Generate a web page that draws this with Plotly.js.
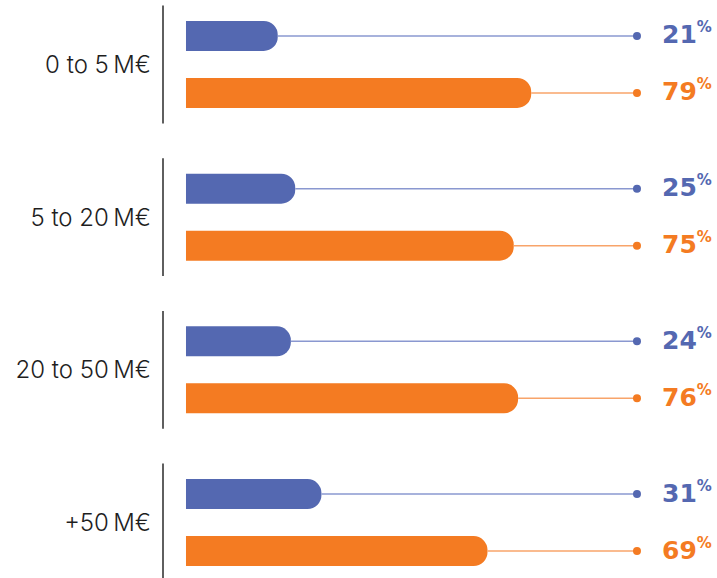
<!DOCTYPE html>
<html>
<head>
<meta charset="utf-8">
<script src="https://cdn.plot.ly/plotly-3.0.1.min.js"></script>
<style>
  html, body { margin: 0; padding: 0; background: #fff; }
  #chart { width: 717px; height: 578px; }
</style>
</head>
<body>
<div id="chart"></div>
<script>
// Revenue bands and the share of each answer within a band (percent)
const categories = ['0 to 5\u202fM€', '5 to 20\u202fM€', '20 to 50\u202fM€', '+50\u202fM€'];
const blueValues = [21, 25, 24, 31];
const orangeValues = [79, 75, 76, 69];

const BLUE = '#5468b1';
const ORANGE = '#f47b22';
const BLUE_LINE = '#8a98d0';
const ORANGE_LINE = '#f8a46a';

// layout helpers: each band holds two bars, one above and one below its centre
const pair = 0.1866;      // offset of a bar from the band centre (category units)
const barW = 0.1965;      // bar thickness (category units)
const dotX = 103.2;       // where the guide lines end
const idx = categories.map((_, i) => i);

function guide(values, sign) {
  const xs = [], ys = [];
  values.forEach((v, i) => { xs.push(v, dotX, null); ys.push(i + sign * pair, i + sign * pair, null); });
  return { xs, ys };
}

const gB = guide(blueValues, -1);
const gO = guide(orangeValues, 1);

const traces = [
  { type: 'scatter', mode: 'lines', x: gB.xs, y: gB.ys, line: { color: BLUE_LINE, width: 1.5 }, hoverinfo: 'skip', showlegend: false },
  { type: 'scatter', mode: 'lines', x: gO.xs, y: gO.ys, line: { color: ORANGE_LINE, width: 1.5 }, hoverinfo: 'skip', showlegend: false },
  { type: 'bar', orientation: 'h', x: blueValues, y: idx.map(i => i - pair), width: barW,
    marker: { color: BLUE, cornerradius: 14 }, showlegend: false },
  { type: 'bar', orientation: 'h', x: orangeValues, y: idx.map(i => i + pair), width: barW,
    marker: { color: ORANGE, cornerradius: 14 }, showlegend: false },
  { type: 'scatter', mode: 'markers', x: idx.map(() => dotX), y: idx.map(i => i - pair),
    marker: { color: BLUE, size: 8 }, hoverinfo: 'skip', showlegend: false },
  { type: 'scatter', mode: 'markers', x: idx.map(() => dotX), y: idx.map(i => i + pair),
    marker: { color: ORANGE, size: 8 }, hoverinfo: 'skip', showlegend: false }
];

const shapes = idx.map(i => ({
  type: 'line', xref: 'x', yref: 'y', x0: -5.26, x1: -5.26, y0: i - 0.386, y1: i + 0.386,
  line: { color: '#2a2a2a', width: 1.5 }
}));

const valueFont = { family: 'DejaVu Sans, sans-serif', size: 25, weight: 700 };
function pct(v) { return v + '<sup><span style="font-size:15px">%</span></sup>'; }
const annotations = [];
blueValues.forEach((v, i) => annotations.push({
  xref: 'paper', yref: 'y', x: 714 / 717, y: i - pair, xanchor: 'right', yanchor: 'middle', yshift: 2,
  text: pct(v), showarrow: false, font: Object.assign({ color: BLUE }, valueFont)
}));
orangeValues.forEach((v, i) => annotations.push({
  xref: 'paper', yref: 'y', x: 714 / 717, y: i + pair, xanchor: 'right', yanchor: 'middle', yshift: 2,
  text: pct(v), showarrow: false, font: Object.assign({ color: ORANGE }, valueFont)
}));

const layout = {
  width: 717, height: 578,
  margin: { l: 0, r: 0, t: 0, b: 0 },
  paper_bgcolor: '#fff', plot_bgcolor: '#fff',
  barmode: 'overlay',
  xaxis: { range: [-42.56, 121.51], visible: false, fixedrange: true },
  yaxis: {
    range: [3.363, -0.422], anchor: 'free', position: 163 / 717,
    tickvals: idx, ticktext: categories, ticks: '', showline: false, showgrid: false,
    zeroline: false, ticklabelstandoff: 12,
    tickfont: { family: 'Inter, sans-serif', size: 24, weight: 300, color: '#1e1e1e' }, fixedrange: true
  },
  shapes: shapes,
  annotations: annotations
};

Plotly.newPlot('chart', traces, layout, { displayModeBar: false, staticPlot: true });
</script>
</body>
</html>
